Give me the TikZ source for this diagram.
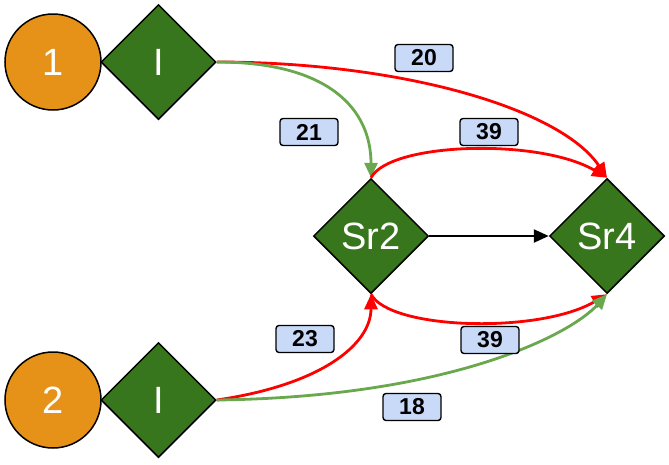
\documentclass[tikz,border=0pt]{standalone}
\usepackage{fontspec}
\setmainfont{Liberation Sans}
\usetikzlibrary{shapes.geometric,arrows.meta}
\definecolor{nodeorange}{HTML}{E69118}
\definecolor{nodegreen}{HTML}{38761D}
\definecolor{edgegreen}{HTML}{6AA84F}
\definecolor{edgered}{HTML}{FF0000}
\definecolor{labelblue}{HTML}{C9DAF8}
\tikzset{
  circ/.style={circle, draw=black, line width=1.5pt, fill=nodeorange, minimum size=96pt, inner sep=0pt, text=white, font=\fontsize{38}{44}\selectfont},
  dia/.style={diamond, draw=black, line width=1.5pt, fill=nodegreen, minimum width=115pt, minimum height=115pt, inner sep=0pt, text=white, font=\fontsize{38}{44}\selectfont},
  lbl/.style={draw=black, line width=1.4pt, rounded corners=3pt, fill=labelblue, minimum width=58pt, minimum height=27pt, inner sep=0pt, font=\fontsize{23}{26}\selectfont\bfseries},
  edge/.style={line width=2.8pt, -{Triangle[length=15pt,width=13pt]}},
}
\begin{document}
\begin{tikzpicture}[x=1pt,y=-1pt]
\useasboundingbox (0,0) rectangle (669,464);
\node[circ] (c1) at (53,62) {1};
\node[circ] (c2) at (53,400) {2};
\node[dia] (i1) at (158.5,62) {I};
\node[dia] (i2) at (158.5,400) {I};
\node[dia] (sr2) at (371,236) {Sr2};
\node[dia] (sr4) at (607,236) {Sr4};
% edges
\draw[edge, edgered] (i1.east) .. controls (400,62) and (560,108) .. (sr4.north);
\draw[edge, edgegreen] (i1.east) .. controls (330,62) and (371,110) .. (sr2.north);
\draw[edge, edgered] (sr2.north) .. controls (390,142) and (540,138) .. (sr4.north);
\draw[edge, black, line width=2.4pt] (sr2.east) -- (sr4.west);
\draw[edge, edgered] (sr2.south) .. controls (390,330) and (540,334) .. (sr4.south);
\draw[edge, edgered] (i2.east) .. controls (320,385) and (371,345) .. (sr2.south);
\draw[edge, edgegreen] (i2.east) .. controls (450,397) and (570,335) .. (sr4.south);
% labels
\node[lbl] (l20) at (424,58) {20};
\node[lbl] (l21) at (309,132) {21};
\node[lbl] (l39a) at (489,132) {39};
\node[lbl] (l23) at (305,339) {23};
\node[lbl] (l39b) at (490,340) {39};
\node[lbl] (l18) at (412,407) {18};
\end{tikzpicture}
\end{document}
